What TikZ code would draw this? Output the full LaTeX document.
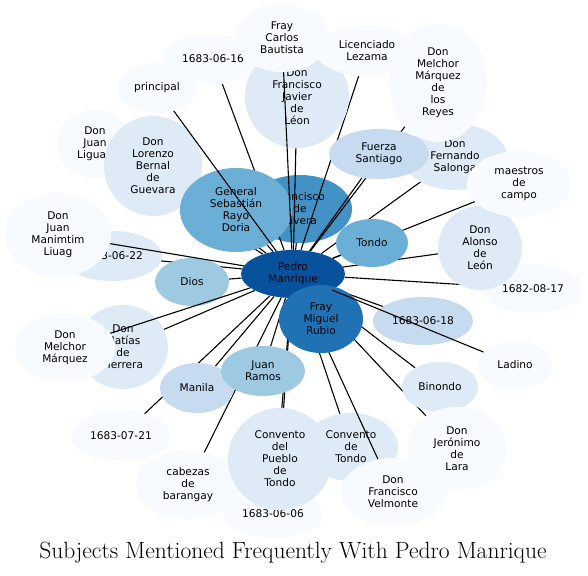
\documentclass[tikz,border=0pt]{standalone}
\usepackage{fontspec}
\newfontfamily\labelfont{DejaVu Sans}
\usepackage{tikz}
\usetikzlibrary{shapes.geometric}
\definecolor{freqA}{HTML}{F7FBFF}
\definecolor{freqB}{HTML}{DEEBF7}
\definecolor{freqC}{HTML}{C6DBEF}
\definecolor{freqD}{HTML}{9ECAE1}
\definecolor{freqE}{HTML}{6BAED6}
\definecolor{freqF}{HTML}{4292C6}
\definecolor{freqG}{HTML}{2171B5}
\definecolor{freqH}{HTML}{08519C}
\pgfdeclarelayer{base}
\pgfdeclarelayer{back}
\pgfdeclarelayer{mid}
\pgfdeclarelayer{upper}
\pgfdeclarelayer{front}
\pgfsetlayers{base,back,main,mid,upper,front}

\begin{document}
\begin{tikzpicture}[
  x=1pt, y=-1pt,
  subj/.style={ellipse, draw=none, inner sep=0pt, align=center, text=black,
               font=\labelfont\fontsize{10.6}{12}\selectfont},
  sz/.style 2 args={minimum width=#1pt, minimum height=#2pt},
  lvA/.style={subj, fill=freqA},
  lvB/.style={subj, fill=freqB},
  lvC/.style={subj, fill=freqC},
  lvD/.style={subj, fill=freqD},
  lvE/.style={subj, fill=freqE},
  lvF/.style={subj, fill=freqF},
  lvG/.style={subj, fill=freqG},
  lvH/.style={subj, fill=freqH},
  link/.style={draw=black, line width=1.1pt}
]
\useasboundingbox (0,0) rectangle (588,575);
\begin{pgfonlayer}{base}
\fill[white] (0,0) rectangle (588,575);
\node[lvF, sz={104}{68}] (rivera) at (300,209) {Francisco\\de\\Rivera};
\end{pgfonlayer}

\node[lvA, sz={100}{50}] (d0616) at (213,59) {1683-06-16};
\node[lvA, sz={80}{50}] (principal) at (157,88) {principal};
\node[lvB, sz={104}{102}] (javier) at (297,97) {Don\\Francisco\\Javier\\de\\Léon};
\node[lvA, sz={104}{50}] (lezama) at (367,51) {Licenciado\\Lezama};
\node[lvA, sz={94}{68}] (carlos) at (282,38) {Fray\\Carlos\\Bautista};
\node[lvB, sz={104}{66}] (salonga) at (455,157) {Don\\Fernando\\Salonga};
\node[lvA, sz={98}{118}] (reyes) at (438,83) {Don\\Melchor\\Márquez\\de\\los\\Reyes};
\node[lvC, sz={100}{50}] (fuerza) at (379,154) {Fuerza\\Santiago};
\node[lvA, sz={100}{48}] (d0817) at (533,289) {1682-08-17};
\node[lvB, sz={84}{84}] (alonso) at (480,248) {Don\\Alonso\\de\\León};
\node[lvA, sz={104}{66}] (maestros) at (519,184) {maestros\\de\\campo};
\node[lvE, sz={72}{48}] (tondo) at (372,243) {Tondo};
\node[lvC, sz={100}{48}] (d0618) at (423,321) {1683-06-18};
\node[lvA, sz={74}{48}] (ladino) at (515,365) {Ladino};
\node[lvB, sz={76}{50}] (binondo) at (440,387) {Binondo};
\node[lvA, sz={100}{84}] (jeronimo) at (457,449) {Don\\Jerónimo\\de\\Lara};
\node[lvB, sz={94}{68}] (ctondo) at (351,447) {Convento\\de\\Tondo};
\node[lvA, sz={104}{68}] (velmonte) at (393,492) {Don\\Francisco\\Velmonte};
\node[lvA, sz={104}{68}] (cabezas) at (188,485) {cabezas\\de\\barangay};
\node[lvA, sz={100}{48}] (d0606) at (273,514) {1683-06-06};
\node[lvB, sz={104}{102}] (pueblo) at (280,459) {Convento\\del\\Pueblo\\de\\Tondo};
\node[lvA, sz={100}{50}] (d0721) at (121,436) {1683-07-21};
\node[lvC, sz={74}{50}] (manila) at (197,388) {Manila};
\node[lvD, sz={84}{50}] (ramos) at (263,371) {Juan\\Ramos};
\node[lvB, sz={90}{84}] (matias) at (123,347) {Don\\Matías\\de\\Herrera};
\node[lvA, sz={100}{68}] (melchor) at (65,348) {Don\\Melchor\\Márquez};
\node[lvB, sz={100}{50}] (d0622) at (112,256) {1683-06-22};
\node[lvA, sz={106}{84}] (liuag) at (58,235) {Don\\Juan\\Manimtim\\Liuag};
\node[lvD, sz={74}{48}] (dios) at (192,282) {Dios};
\node[lvA, sz={76}{68}] (liguan) at (95,144) {Don\\Juan\\Liguan};
\node[lvB, sz={98}{100}] (lorenzo) at (153,166) {Don\\Lorenzo\\Bernal\\de\\Guevara};
\node[lvE, sz={112}{84}] (sebastian) at (236,210) {General\\Sebastián\\Rayo\\Doria};

\begin{pgfonlayer}{upper}
\node[lvH, sz={104}{48}] (pedro) at (293,274) {Pedro\\Manrique};
\node[lvG, sz={84}{68}] (miguel) at (321,319) {Fray\\Miguel\\Rubio};
\end{pgfonlayer}

\node[font=\fontsize{23.5}{27}\selectfont] (title) at (293,553) {Subjects Mentioned Frequently With Pedro Manrique};

% links hidden by the nodes they pass
\begin{pgfonlayer}{back}
\draw[link] (pedro) -- (d0616);
\draw[link] (pedro) -- (lorenzo);
\draw[link] (pedro) -- (liguan);
\draw[link] (pedro) -- (rivera);
\draw[link] (pedro) -- (sebastian);
\draw[link] (pedro) -- (javier);
\draw[link] (pedro) -- (lezama);
\draw[link] (pedro) -- (fuerza);
\draw[link] (pedro) -- (reyes);
\draw[link] (pedro) -- (salonga);
\draw[link] (pedro) -- (maestros);
\draw[link] (pedro) -- (tondo);
\draw[link] (pedro) -- (alonso);
\draw[link] (pedro) -- (d0817);
\draw[link] (pedro) -- (d0618);
\draw[link] (pedro) -- (binondo);
\draw[link] (pedro) -- (jeronimo);
\draw[link] (pedro) -- (ctondo);
\draw[link] (pedro) -- (pueblo);
\draw[link] (pedro) -- (d0606);
\draw[link] (pedro) -- (ramos);
\draw[link] (pedro) -- (cabezas);
\draw[link] (pedro) -- (manila);
\draw[link] (pedro) -- (d0721);
\draw[link] (pedro) -- (matias);
\draw[link] (pedro) -- (dios);
\draw[link] (pedro) -- (d0622);
\end{pgfonlayer}
\begin{pgfonlayer}{mid}
\draw[link] (pedro) -- (velmonte);
\end{pgfonlayer}
% links drawn over the nodes
\begin{pgfonlayer}{front}
\draw[link] (pedro) -- (principal);
\draw[link] (pedro) -- (carlos);
\draw[link] (pedro) -- (liuag);
\draw[link] (pedro) -- (melchor);
\draw[link] (pedro) -- (ladino);
\end{pgfonlayer}
\end{tikzpicture}
\end{document}
